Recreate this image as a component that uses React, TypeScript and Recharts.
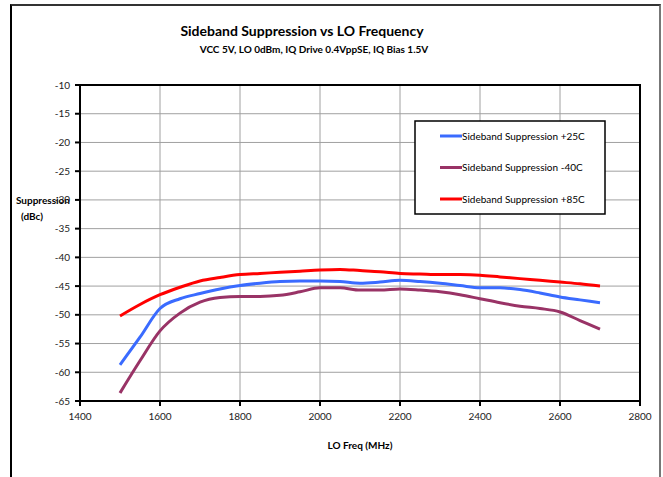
import React from 'react';
import {
  LineChart,
  Line,
  XAxis,
  YAxis,
  CartesianGrid,
  ReferenceArea,
} from 'recharts';

const FONT = "Lato, 'Liberation Sans', sans-serif";

// LO frequency (MHz)
const freqs = [
  1500, 1550, 1600, 1650, 1700, 1750, 1800, 1850, 1900, 1950, 2000, 2050, 2100,
  2150, 2200, 2250, 2300, 2350, 2400, 2450, 2500, 2550, 2600, 2650, 2700,
];

// sideband suppression (dBc)
const supp25 = [
  -58.7, -53.9, -48.9, -47.2, -46.3, -45.5, -44.9, -44.5, -44.2, -44.1, -44.1, -44.2, -44.5,
  -44.3, -44.0, -44.2, -44.5, -44.9, -45.3, -45.3, -45.6, -46.2, -46.9, -47.4, -47.9,
];
const suppM40 = [
  -63.6, -58.0, -52.8, -49.7, -47.8, -47.0, -46.8, -46.8, -46.6, -46.0, -45.3, -45.3, -45.7,
  -45.7, -45.5, -45.7, -46.0, -46.5, -47.2, -47.9, -48.5, -48.9, -49.5, -51.0, -52.5,
];
const supp85 = [
  -50.2, -48.2, -46.5, -45.2, -44.1, -43.5, -43.0, -42.8, -42.6, -42.4, -42.2, -42.1, -42.3,
  -42.5, -42.8, -42.9, -43.0, -43.0, -43.1, -43.4, -43.7, -44.0, -44.3, -44.6, -45.0,
];

const xTicks = [1400, 1600, 1800, 2000, 2200, 2400, 2600, 2800];
const yTicks = [-65, -60, -55, -50, -45, -40, -35, -30, -25, -20, -15, -10];

const series = [
  { key: 's25', name: 'Sideband Suppression +25C', color: '#3A6BFF' },
  { key: 'sM40', name: 'Sideband Suppression -40C', color: '#993366' },
  { key: 's85', name: 'Sideband Suppression +85C', color: '#FF0000' },
];

const data = freqs.map((f, i) => ({
  freq: f,
  s25: supp25[i],
  sM40: suppM40[i],
  s85: supp85[i],
}));

export default function App() {
  return (
    <div style={{ position: 'absolute', left: 0, top: 0, width: 663, height: 477, background: '#fff', overflow: 'hidden' }}>
      {/* outer chart frame */}
      <div
        style={{
          position: 'absolute',
          left: 10,
          top: 4,
          width: 651,
          height: 500,
          borderLeft: '2px solid #000',
          borderTop: '2px solid #333',
          borderRight: '2px solid #777',
          boxSizing: 'border-box',
        }}
      />
      <div style={{ position: 'absolute', left: 0, top: 0 }}>
        <LineChart width={663} height={477} data={data} margin={{ top: 85, right: 23, left: 40, bottom: 26 }}>
          <CartesianGrid stroke="#a0a0a0" strokeWidth={1} />
          <XAxis
            dataKey="freq"
            type="number"
            domain={[1400, 2800]}
            ticks={xTicks}
            interval={0}
            height={50}
            stroke="#000"
            strokeWidth={2}
            tickSize={5}
            tickMargin={7}
            tick={{ fontSize: 10, fill: '#222', fontFamily: FONT }}
          />
          <YAxis
            type="number"
            domain={[-65, -10]}
            ticks={yTicks}
            interval={0}
            width={40}
            stroke="#000"
            strokeWidth={2}
            tickSize={5}
            tickMargin={5}
            tick={{ fontSize: 10, fill: '#222', fontFamily: FONT }}
          />
          <ReferenceArea x1={1400} x2={2800} y1={-65} y2={-10} fill="none" stroke="#000" strokeWidth={2} />
          {series.map((s) => (
            <Line
              key={s.key}
              type="monotone"
              dataKey={s.key}
              name={s.name}
              stroke={s.color}
              strokeWidth={3}
              dot={false}
              isAnimationActive={false}
            />
          ))}
          {/* boxed legend */}
          <g>
            <rect x={415} y={121} width={190} height={93} fill="#fff" stroke="#000" strokeWidth={1.5} />
            {series.map((s, i) => (
              <g key={s.key}>
                <line x1={440} x2={462} y1={136 + i * 31.5} y2={136 + i * 31.5} stroke={s.color} strokeWidth={3} />
                <text x={462} y={139.5 + i * 31.5} fontFamily={FONT} fontSize={10} fill="#000">
                  {s.name}
                </text>
              </g>
            ))}
          </g>
          <text x={302} y={36} textAnchor="middle" fontFamily={FONT} fontSize={14} fontWeight="bold" fill="#000">
            Sideband Suppression vs LO Frequency
          </text>
          <text x={314} y={53} textAnchor="middle" fontFamily={FONT} fontSize={10} fontWeight="bold" fill="#000">
            VCC 5V, LO 0dBm, IQ Drive 0.4VppSE, IQ Bias 1.5V
          </text>
          <text x={43} y={204} textAnchor="middle" fontFamily={FONT} fontSize={10} fontWeight="bold" fill="#000">
            Suppression
          </text>
          <text x={32} y={220} textAnchor="middle" fontFamily={FONT} fontSize={10} fontWeight="bold" fill="#000">
            (dBc)
          </text>
          <text x={360} y={449} textAnchor="middle" fontFamily={FONT} fontSize={10} fontWeight="bold" fill="#000">
            LO Freq (MHz)
          </text>
        </LineChart>
      </div>
    </div>
  );
}
